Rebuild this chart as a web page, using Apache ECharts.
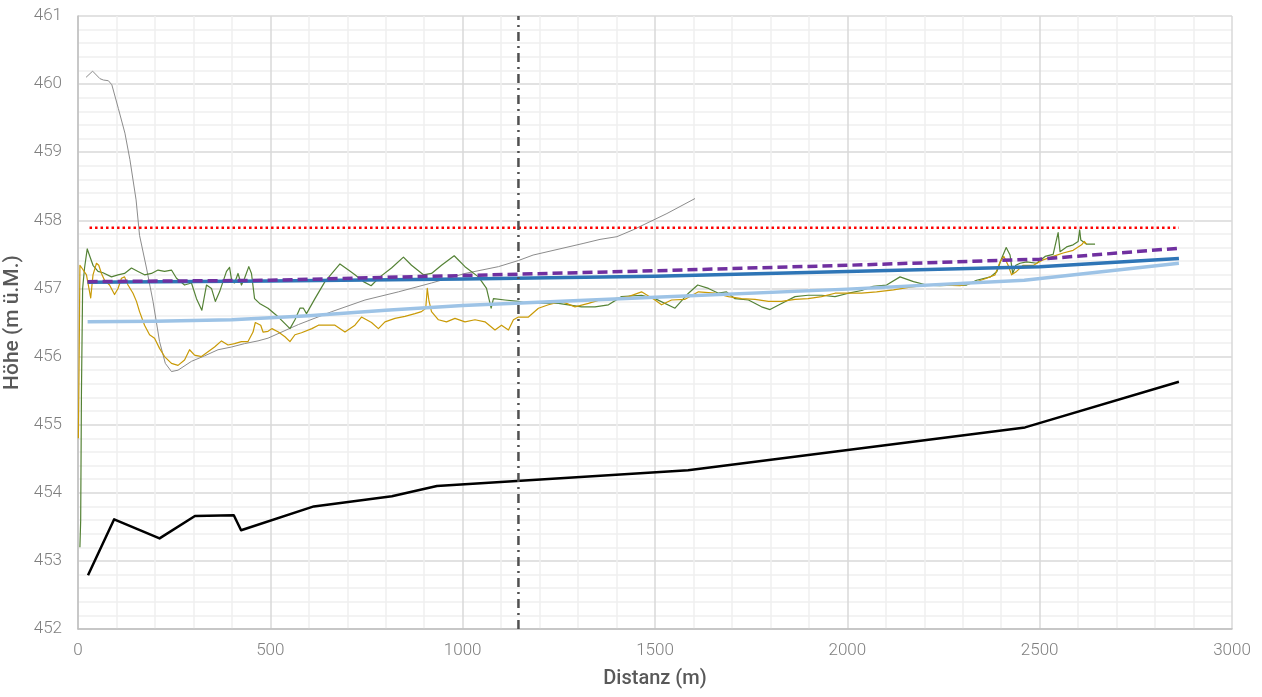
<!DOCTYPE html>
<html>
<head>
<meta charset="utf-8">
<script src="https://cdn.jsdelivr.net/npm/echarts@6/dist/echarts.min.js"></script>
<style>html,body{margin:0;padding:0;background:#fff}#c{width:1262px;height:697px}</style>
</head>
<body>
<div id="c"></div>
<script>
// Axis ranges
const xMin = 0, xMax = 3000, xStep = 500;
const yMin = 452, yMax = 461, yStep = 1;
const xTitle = 'Distanz (m)';
const yTitle = 'Höhe (m ü.M.)';

// Black line (Sohle)
const sohle = [[26,452.79],[94,453.61],[212,453.33],[304,453.66],[405,453.67],[424,453.45],[613,453.80],[816,453.95],[933,454.10],[1586,454.33],[2462,454.96],[2862,455.63]];

// Dark blue line
const blueDark = [[25,457.09],[500,457.11],[1000,457.14],[1500,457.18],[2000,457.25],[2500,457.32],[2862,457.44]];

// Purple dashed line
const purple = [[25,457.10],[500,457.12],[1000,457.19],[1500,457.26],[2000,457.34],[2500,457.43],[2862,457.59]];

// Light blue line
const blueLight = [[25,456.51],[200,456.52],[400,456.54],[600,456.60],[800,456.68],[1000,456.75],[1500,456.87],[2000,456.99],[2460,457.12],[2862,457.37]];

// Red dotted level
const redLevel = [[30,457.89],[2862,457.89]];

// Vertical dash-dot marker
const markerX = 1145;

// Grey thin line
const grey = [[21,460.10],[38,460.19],[57,460.08],[66,460.06],[79,460.05],[88,459.99],[105,459.64],[122,459.28],[135,458.89],[151,458.30],[160,457.78],[178,457.30],[195,456.81],[212,456.22],[227,455.90],[243,455.78],[260,455.80],[295,455.93],[329,456.01],[364,456.10],[399,456.14],[433,456.19],[468,456.23],[494,456.27],[573,456.47],[660,456.66],[746,456.83],[833,456.95],[919,457.08],[1006,457.22],[1093,457.32],[1145,457.41],[1183,457.49],[1313,457.66],[1357,457.72],[1401,457.76],[1443,457.86],[1487,457.98],[1531,458.10],[1604,458.32]];

// Green thin line
const green = [[5,453.2],[7,453.6],[9,455.5],[12,457.0],[17,457.3],[24,457.58],[39,457.34],[52,457.25],[65,457.23],[87,457.17],[104,457.20],[121,457.22],[139,457.30],[156,457.25],[173,457.20],[191,457.22],[208,457.27],[225,457.25],[243,457.27],[256,457.15],[277,457.05],[295,457.08],[308,456.85],[322,456.68],[334,457.05],[347,457.00],[357,456.81],[368,456.95],[377,457.10],[386,457.25],[394,457.31],[400,457.10],[407,457.08],[416,457.22],[425,457.05],[433,457.15],[444,457.32],[451,457.22],[459,456.85],[472,456.78],[494,456.71],[521,456.58],[551,456.41],[564,456.54],[577,456.71],[586,456.71],[594,456.63],[616,456.85],[642,457.10],[681,457.36],[703,457.27],[720,457.20],[742,457.10],[762,457.04],[785,457.17],[815,457.30],[846,457.46],[867,457.34],[898,457.20],[919,457.22],[945,457.34],[978,457.48],[1006,457.32],[1041,457.17],[1062,457.00],[1074,456.71],[1080,456.85],[1110,456.83],[1145,456.81],[1162,456.79],[1205,456.78],[1249,456.78],[1309,456.73],[1344,456.73],[1379,456.76],[1413,456.88],[1465,456.90],[1500,456.85],[1552,456.71],[1587,456.93],[1611,457.05],[1639,457.00],[1665,456.93],[1686,456.95],[1708,456.85],[1743,456.83],[1777,456.73],[1799,456.69],[1829,456.78],[1864,456.88],[1898,456.90],[1933,456.90],[1968,456.88],[2003,456.93],[2037,456.97],[2067,457.03],[2102,457.05],[2137,457.17],[2172,457.10],[2206,457.05],[2241,457.04],[2276,457.05],[2310,457.05],[2336,457.12],[2372,457.17],[2389,457.25],[2401,457.44],[2413,457.60],[2423,457.49],[2430,457.22],[2438,457.34],[2449,457.37],[2466,457.39],[2492,457.37],[2514,457.47],[2535,457.50],[2548,457.82],[2553,457.54],[2570,457.61],[2587,457.64],[2600,457.69],[2604,457.86],[2607,457.71],[2622,457.65],[2644,457.65]];

// Gold thin line
const gold = [[1,454.8],[3,456.0],[5,457.34],[10,457.30],[22,457.20],[33,456.86],[39,457.20],[48,457.37],[54,457.34],[61,457.22],[69,457.12],[82,457.05],[95,456.91],[104,457.00],[113,457.15],[121,457.17],[130,457.05],[143,456.93],[152,456.81],[160,456.66],[173,456.46],[186,456.32],[199,456.27],[212,456.12],[225,456.00],[243,455.90],[260,455.87],[277,455.95],[290,456.10],[303,456.02],[321,456.00],[338,456.07],[355,456.14],[373,456.23],[390,456.17],[407,456.19],[425,456.22],[442,456.22],[455,456.36],[461,456.50],[475,456.46],[481,456.36],[494,456.37],[504,456.41],[521,456.36],[538,456.29],[551,456.22],[564,456.32],[581,456.35],[608,456.41],[625,456.46],[668,456.46],[694,456.36],[720,456.46],[737,456.58],[763,456.50],[781,456.41],[798,456.51],[824,456.56],[850,456.59],[876,456.63],[893,456.66],[904,456.71],[908,457.00],[912,456.83],[919,456.66],[937,456.54],[958,456.51],[980,456.56],[1006,456.51],[1032,456.54],[1058,456.51],[1084,456.39],[1101,456.46],[1119,456.39],[1132,456.54],[1145,456.58],[1171,456.58],[1197,456.71],[1223,456.76],[1257,456.81],[1292,456.73],[1327,456.78],[1361,456.84],[1396,456.85],[1431,456.88],[1465,456.95],[1500,456.83],[1517,456.76],[1543,456.83],[1578,456.84],[1613,456.95],[1656,456.93],[1691,456.88],[1725,456.85],[1760,456.84],[1795,456.81],[1829,456.81],[1864,456.84],[1898,456.85],[1933,456.88],[1968,456.93],[2003,456.93],[2037,456.93],[2076,456.95],[2120,456.98],[2163,457.02],[2206,457.05],[2250,457.05],[2293,457.04],[2327,457.08],[2362,457.15],[2384,457.20],[2397,457.39],[2407,457.47],[2418,457.34],[2427,457.20],[2440,457.25],[2457,457.34],[2484,457.34],[2509,457.42],[2535,457.47],[2561,457.52],[2587,457.56],[2609,457.64],[2616,457.69],[2622,457.65]];

const FONT = 'Roboto';
const chart = echarts.init(document.getElementById('c'), null, {renderer: 'canvas'});

function line(data, color, width, type, z) {
  return {type: 'line', data: data, showSymbol: false, symbol: 'none', smooth: false, z: z,
    lineStyle: {color: color, width: width, type: type || 'solid', cap: 'butt', join: 'round'},
    silent: true, animation: false};
}

chart.setOption({
  animation: false,
  backgroundColor: '#ffffff',
  grid: {left: 78, right: 30, top: 16, bottom: 68, containLabel: false, outerBoundsMode: 'none'},
  xAxis: {
    type: 'value', min: xMin, max: xMax, interval: xStep,
    name: xTitle, nameLocation: 'middle', nameGap: 40,
    nameTextStyle: {fontFamily: FONT, fontSize: 20, fontWeight: 500, color: '#595959'},
    axisLine: {show: true, lineStyle: {color: '#bfbfbf', width: 1.5}},
    axisTick: {show: false},
    axisLabel: {fontFamily: FONT, fontSize: 17, fontWeight: 300, color: '#7f7f7f', margin: 13,
      formatter: function (v) { return String(v); }},
    splitLine: {show: true, lineStyle: {color: '#d9d9d9', width: 1.5}},
    minorTick: {show: false, splitNumber: 5},
    minorSplitLine: {show: true, lineStyle: {color: '#f0f0f0', width: 1.5}}
  },
  yAxis: {
    type: 'value', min: yMin, max: yMax, interval: yStep,
    name: yTitle, nameLocation: 'middle', nameGap: 40, nameRotate: 90,
    nameTextStyle: {fontFamily: FONT, fontSize: 21, fontWeight: 500, color: '#595959'},
    axisLine: {show: true, lineStyle: {color: '#bfbfbf', width: 1.5}},
    axisTick: {show: false},
    axisLabel: {fontFamily: FONT, fontSize: 17, fontWeight: 300, color: '#7f7f7f', margin: 16,
      formatter: function (v) { return String(v); }},
    splitLine: {show: true, lineStyle: {color: '#d9d9d9', width: 1.5}},
    minorTick: {show: false, splitNumber: 5},
    minorSplitLine: {show: true, lineStyle: {color: '#f0f0f0', width: 1.5}}
  },
  series: [
    line(grey, '#8c8c8c', 1, 'solid', 2),
    line(green, '#548235', 1.2, 'solid', 3),
    line(gold, '#c99a06', 1.2, 'solid', 3),
    line(sohle, '#000000', 2.5, 'solid', 4),
    line(blueLight, '#9dc3e6', 3.5, 'solid', 5),
    line(blueDark, '#2e75b6', 3.5, 'solid', 6),
    line(purple, '#7030a0', 3.5, [10, 5], 7),
    line(redLevel, '#ff0000', 2.5, [2.5, 3], 8),
    line([[markerX, yMin], [markerX, yMax]], '#505050', 2.5, [9, 5, 2, 5], 9)
  ]
});
</script>
</body>
</html>
